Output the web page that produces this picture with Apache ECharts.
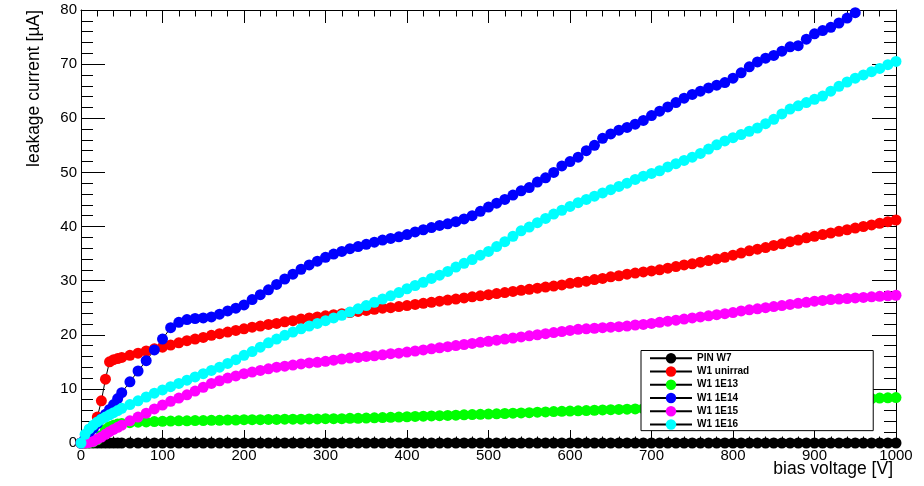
<!DOCTYPE html>
<html>
<head>
<meta charset="utf-8">
<script src="https://cdn.jsdelivr.net/npm/echarts@6/dist/echarts.min.js"></script>
<style>
html,body{margin:0;padding:0;background:#fff;}
#chart{width:924px;height:486px;}
</style>
</head>
<body>
<div id="chart"></div>
<script>
// bias voltage [V]
const voltages = [0,5,10,15,20,25,30,35,40,45,50,
  60,70,80,90,100,110,120,130,140,150,
  160,170,180,190,200,210,220,230,240,250,
  260,270,280,290,300,310,320,330,340,350,
  360,370,380,390,400,410,420,430,440,450,
  460,470,480,490,500,510,520,530,540,550,
  560,570,580,590,600,610,620,630,640,650,
  660,670,680,690,700,710,720,730,740,750,
  760,770,780,790,800,810,820,830,840,850,
  860,870,880,890,900,910,920,930,940,950,
  960,970,980,990,1000];

const seriesNames = ['PIN W7','W1 unirrad','W1 1E13','W1 1E14','W1 1E15','W1 1E16'];
const seriesColors = ['#000000','#ff0000','#00ff00','#0000ff','#ff00ff','#00ffff'];

const pinW7 = voltages.map(() => 0);

const w1Unirrad = [0,0.3,1.2,2.8,4.8,7.8,11.8,15.0,15.4,15.6,15.8,
  16.2,16.6,17.0,17.4,17.7,18.1,18.5,18.9,19.2,19.5,
  19.9,20.2,20.5,20.8,21.1,21.4,21.6,21.9,22.1,22.4,
  22.6,22.9,23.1,23.3,23.5,23.7,23.9,24.1,24.3,24.5,
  24.7,24.9,25.0,25.2,25.4,25.6,25.8,26.0,26.2,26.4,
  26.6,26.8,27.0,27.2,27.4,27.6,27.8,28.0,28.2,28.4,
  28.6,28.8,29.0,29.2,29.5,29.7,29.9,30.2,30.4,30.7,
  30.9,31.2,31.4,31.6,31.8,32.0,32.3,32.6,32.9,33.1,
  33.4,33.7,34.0,34.3,34.7,35.1,35.5,35.8,36.1,36.5,
  36.8,37.2,37.5,37.9,38.2,38.5,38.8,39.1,39.4,39.7,
  40.0,40.3,40.6,40.9,41.2];

const w1E13 = [0,0,0.05,0.2,0.6,1.4,2.5,3.0,3.3,3.5,3.6,
  3.75,3.85,3.9,3.95,4.0,4.05,4.1,4.1,4.15,4.15,
  4.2,4.2,4.25,4.25,4.3,4.3,4.3,4.35,4.35,4.4,
  4.4,4.4,4.45,4.45,4.5,4.5,4.5,4.55,4.55,4.6,
  4.65,4.7,4.75,4.8,4.85,4.9,4.95,5.0,5.05,5.1,
  5.15,5.2,5.25,5.3,5.35,5.4,5.45,5.5,5.55,5.6,
  5.7,5.75,5.8,5.85,5.9,5.95,6.0,6.05,6.1,6.15,
  6.2,6.25,6.3,6.35,6.4,6.5,6.55,6.6,6.7,6.75,
  6.8,6.9,6.95,7.0,7.1,7.15,7.2,7.3,7.35,7.4,
  7.5,7.55,7.6,7.7,7.75,7.8,7.9,7.95,8.0,8.1,
  8.15,8.2,8.3,8.35,8.4];

const w1E14 = [0,0.9,1.8,2.7,3.6,4.5,5.3,6.2,7.1,8.2,9.3,
  11.3,13.3,15.2,17.2,19.2,21.3,22.3,22.8,23.0,23.1,
  23.3,23.8,24.4,24.9,25.5,26.5,27.4,28.3,29.3,30.3,
  31.2,32.1,32.9,33.6,34.3,34.9,35.4,35.9,36.3,36.7,
  37.1,37.5,37.8,38.1,38.5,39.0,39.4,39.8,40.2,40.5,
  40.9,41.4,42.0,42.8,43.6,44.3,45.0,45.8,46.6,47.2,
  48.2,49.0,50.0,51.2,52.0,52.8,54.0,55.0,56.3,57.1,
  57.8,58.3,58.9,59.6,60.5,61.3,62.1,62.9,63.7,64.4,
  65.0,65.6,66.1,66.6,67.4,68.4,69.5,70.4,71.1,71.6,
  72.4,73.2,73.4,74.6,75.6,76.2,76.8,77.6,78.5,79.5];

const w1E15 = [0,0,0.1,0.3,0.7,1.1,1.6,2.1,2.5,2.9,3.3,
  4.1,4.8,5.5,6.3,7.0,7.7,8.3,8.9,9.6,10.3,
  11.0,11.5,12.0,12.4,12.8,13.1,13.4,13.7,14.0,14.2,
  14.4,14.6,14.8,14.9,15.1,15.3,15.5,15.7,15.8,16.0,
  16.1,16.3,16.5,16.6,16.8,17.0,17.2,17.4,17.6,17.8,
  18.0,18.2,18.4,18.6,18.8,19.0,19.2,19.4,19.6,19.8,
  20.0,20.2,20.4,20.6,20.8,21.0,21.1,21.2,21.3,21.4,
  21.5,21.6,21.8,21.9,22.1,22.3,22.5,22.7,22.9,23.1,
  23.3,23.5,23.7,23.9,24.1,24.4,24.6,24.8,25.0,25.2,
  25.4,25.6,25.8,26.0,26.2,26.35,26.5,26.6,26.7,26.8,
  26.9,27.0,27.1,27.2,27.3];

const w1E16 = [0,1.6,2.6,3.3,3.9,4.4,4.8,5.2,5.6,6.0,6.4,
  7.1,7.8,8.5,9.2,9.8,10.4,11.0,11.6,12.2,12.8,
  13.4,14.0,14.7,15.4,16.2,16.9,17.7,18.5,19.2,19.9,
  20.5,21.1,21.6,22.1,22.6,23.1,23.6,24.2,24.8,25.4,
  26.0,26.6,27.2,27.8,28.5,29.1,29.7,30.4,31.0,31.7,
  32.5,33.2,33.9,34.7,35.4,36.3,37.2,38.2,39.2,39.9,
  40.7,41.5,42.3,43.0,43.7,44.4,45.0,45.6,46.2,46.8,
  47.4,48.0,48.7,49.3,49.8,50.3,51.0,51.6,52.2,52.8,
  53.5,54.3,55.1,55.8,56.4,57.0,57.6,58.2,59.0,59.8,
  60.8,61.7,62.3,62.9,63.5,64.1,65.0,65.9,66.7,67.4,
  68.0,68.6,69.2,69.9,70.5];

const xTicks = {min: 0, max: 1000, interval: 100};
const yTicks = {min: 0, max: 80, interval: 10};

const allValues = [pinW7, w1Unirrad, w1E13, w1E14, w1E15, w1E16];

const FONT = 'Liberation Sans';

function pairs(vals) {
  const out = [];
  for (let i = 0; i < vals.length && i < voltages.length; i++) out.push([voltages[i], vals[i]]);
  return out;
}

function axisCommon(tickLen, minorLen) {
  return {
    type: 'value',
    axisLine: {show: true, onZero: false, lineStyle: {color: '#000', width: 1}},
    axisTick: {show: true, inside: true, length: tickLen, lineStyle: {color: '#000', width: 1}},
    minorTick: {show: true, splitNumber: 5, length: minorLen, lineStyle: {color: '#000', width: 1}},
    splitLine: {show: false},
    minorSplitLine: {show: false}
  };
}

const chart = echarts.init(document.getElementById('chart'), null, {renderer: 'canvas'});

const series = allValues.map((vals, k) => ({
  name: seriesNames[k],
  type: 'line',
  data: pairs(vals),
  symbol: 'circle',
  symbolSize: 11,
  showSymbol: true,
  showAllSymbol: true,
  clip: true,
  itemStyle: {color: seriesColors[k]},
  lineStyle: {color: '#000', width: 1},
  emphasis: {disabled: true},
  animation: false
}));

const plainNumber = (v) => String(v);

chart.setOption({
  animation: false,
  backgroundColor: '#fff',
  grid: {left: 81, right: 28, top: 10, bottom: 43, containLabel: false},
  xAxis: [
    Object.assign(axisCommon(13, 6.5), {
      position: 'bottom', min: xTicks.min, max: xTicks.max, interval: xTicks.interval,
      axisLabel: {show: true, color: '#000', fontSize: 15, fontFamily: FONT, margin: 5, formatter: plainNumber}
    }),
    Object.assign(axisCommon(13, 6.5), {
      position: 'top', min: xTicks.min, max: xTicks.max, interval: xTicks.interval,
      axisLabel: {show: false}
    })
  ],
  yAxis: [
    Object.assign(axisCommon(24, 12), {
      position: 'left', min: yTicks.min, max: yTicks.max, interval: yTicks.interval,
      axisLabel: {show: true, color: '#000', fontSize: 15, fontFamily: FONT, margin: 4, formatter: plainNumber}
    }),
    Object.assign(axisCommon(24, 12), {
      position: 'right', min: yTicks.min, max: yTicks.max, interval: yTicks.interval,
      axisLabel: {show: false}
    })
  ],
  legend: {
    orient: 'vertical',
    left: 641,
    top: 350.5,
    data: seriesNames,
    selectedMode: false,
    itemWidth: 42,
    itemHeight: 13,
    itemGap: 2.85,
    padding: [2.5, 124, 1, 8],
    backgroundColor: '#fff',
    borderColor: '#000',
    borderWidth: 1,
    borderRadius: 0,
    textStyle: {color: '#000', fontSize: 10, fontWeight: 'bold', fontFamily: FONT}
  },
  graphic: [
    {
      type: 'text', x: 34, y: 10, rotation: Math.PI / 2,
      style: {text: 'leakage current [\u00b5A]', fill: '#000', font: '17.5px "Liberation Sans"', align: 'right', verticalAlign: 'middle'}
    },
    {
      type: 'text', x: 893, y: 469,
      style: {text: 'bias voltage [V]', fill: '#000', font: '17.5px "Liberation Sans"', align: 'right', verticalAlign: 'middle'}
    }
  ],
  series: series
});
</script>
</body>
</html>
